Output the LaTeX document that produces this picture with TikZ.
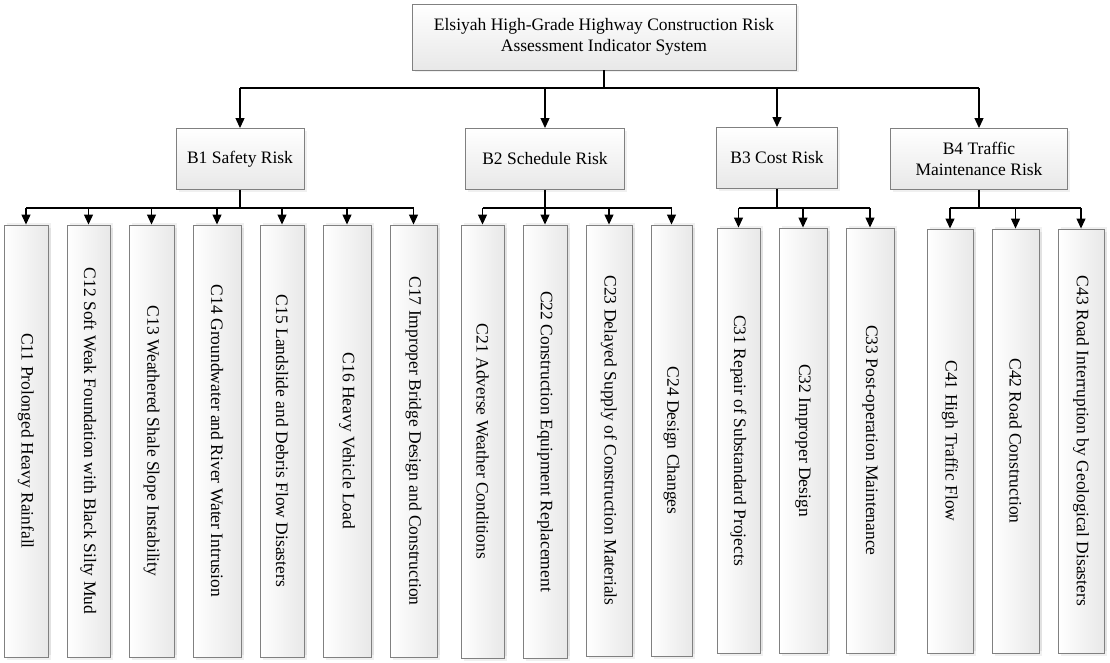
\documentclass[tikz,border=0pt]{standalone}
\usepackage{fontspec}
\setmainfont{Liberation Serif}
\usetikzlibrary{arrows.meta,shadows}

\tikzset{
  box/.style={draw=black!50,line width=0.9pt,top color=white,bottom color=black!9,
    drop shadow={opacity=0.12,shadow xshift=2.5pt,shadow yshift=-2.5pt},
    inner sep=2pt,align=center,font=\fontsize{17.5}{21}\selectfont},
  cbox/.style={box,rotate=-90,left color=white,right color=black!9,
    drop shadow={opacity=0.12,shadow xshift=2.5pt,shadow yshift=2.5pt}},
  link/.style={line width=1.2pt},
  arr/.style={link,-{Triangle[width=9pt,length=10pt]}}
}

\begin{document}
\begin{tikzpicture}[x=1pt,y=-1pt]
\useasboundingbox (0,0) rectangle (1110,663);

% top
\node[box,minimum width=384pt,minimum height=66pt] (top) at (604,37)
  {Elsiyah High-Grade Highway Construction Risk\\Assessment Indicator System};

% B level
\node[box,minimum width=128pt,minimum height=61pt] (b1) at (240,159) {B1 Safety Risk};
\node[box,minimum width=159pt,minimum height=61pt] (b2) at (545,159) {B2 Schedule Risk};
\node[box,minimum width=121pt,minimum height=61pt] (b3) at (777,158) {B3 Cost Risk};
\node[box,minimum width=177pt,minimum height=61pt] (b4) at (979,159) {B4 Traffic\\Maintenance Risk};

% C level
\node[cbox,minimum width=432pt,minimum height=44pt] (c11) at (26,441) {C11 Prolonged Heavy Rainfall};
\node[cbox,minimum width=432pt,minimum height=43pt] (c12) at (88.5,441) {C12 Soft Weak Foundation with Black Silty Mud};
\node[cbox,minimum width=432pt,minimum height=45pt] (c13) at (151.5,441) {C13 Weathered Shale Slope Instability};
\node[cbox,minimum width=432pt,minimum height=48pt] (c14) at (217,441) {C14 Groundwater and River Water Intrusion};
\node[cbox,minimum width=432pt,minimum height=44pt] (c15) at (282,441) {C15 Landslide and Debris Flow Disasters};
\node[cbox,minimum width=432pt,minimum height=48pt] (c16) at (347,441) {C16 Heavy Vehicle Load};
\node[cbox,minimum width=432pt,minimum height=47pt] (c17) at (413.5,441) {C17 Improper Bridge Design and Construction};

\node[cbox,minimum width=433pt,minimum height=43pt] (c21) at (482.5,441.5) {C21 Adverse Weather Conditions};
\node[cbox,minimum width=433pt,minimum height=44pt] (c22) at (545,441.5) {C22 Construction Equipment Replacement};
\node[cbox,minimum width=431pt,minimum height=46pt] (c23) at (609,440.5) {C23 Delayed Supply of Construction Materials};
\node[cbox,minimum width=431pt,minimum height=41pt] (c24) at (671.5,440.5) {C24 Design Changes};

\node[cbox,minimum width=425pt,minimum height=43pt] (c31) at (738.5,440.5) {C31 Repair of Substandard Projects};
\node[cbox,minimum width=425pt,minimum height=48pt] (c32) at (803,440.5) {C32 Improper Design};
\node[cbox,minimum width=425pt,minimum height=48pt] (c33) at (870,440.5) {C33 Post-operation Maintenance};

\node[cbox,minimum width=424pt,minimum height=46pt] (c41) at (950,441) {C41 High Traffic Flow};
\node[cbox,minimum width=424pt,minimum height=47pt] (c42) at (1015.5,441) {C42 Road Construction};
\node[cbox,minimum width=424pt,minimum height=46pt] (c43) at (1081,441) {C43 Road Interruption by Geological Disasters};

% top to B
\coordinate (busA) at (0,88);
\draw[link] (top.south) -- (top.south |- busA);
\draw[link] (b1.north |- busA) -- (b4.north |- busA);
\foreach \b in {b1,b2,b3,b4}
  \draw[arr] (\b.north |- busA) -- (\b.north);

% B to C
\coordinate (busB) at (0,208);
\foreach \b/\first/\last in {b1/c11/c17,b2/c21/c24,b3/c31/c33,b4/c41/c43}{
  \draw[link] (\b.south) -- (\b.south |- busB);
  \draw[link] (\first.west |- busB) -- (\last.west |- busB);
}
\foreach \c in {c11,c12,c13,c14,c15,c16,c17,c21,c22,c23,c24,c31,c32,c33,c41,c42,c43}
  \draw[arr] (\c.west |- busB) -- (\c.west);
\end{tikzpicture}
\end{document}
